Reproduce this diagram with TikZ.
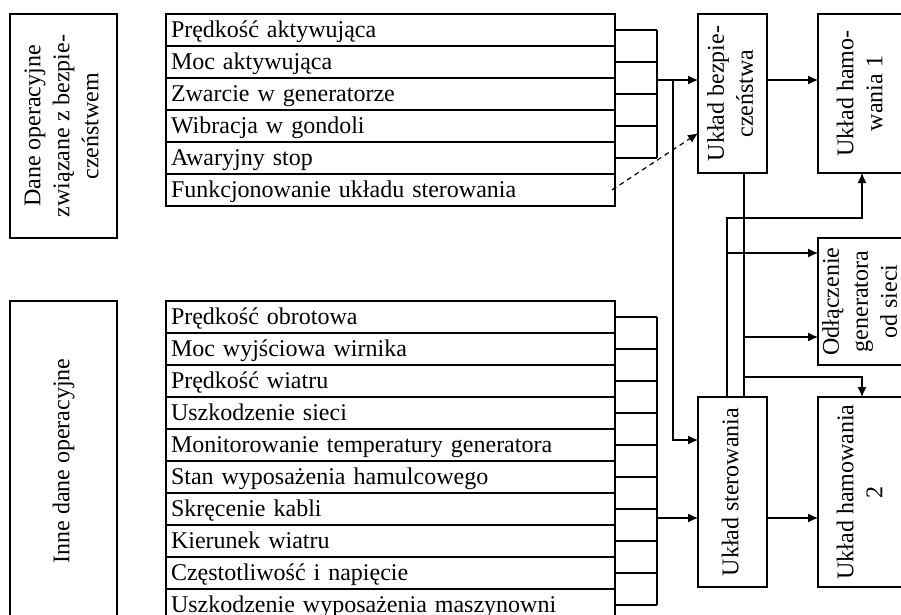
\documentclass[tikz,border=0pt]{standalone}
\usepackage{fontspec}
\setmainfont{Liberation Serif}
\usepackage{tikz}
\usetikzlibrary{calc, arrows.meta, positioning}

\tikzset{
    wiersz/.style={draw, anchor=north west, minimum height=32pt, text width=439pt,
        inner xsep=5pt, inner ysep=0pt, outer sep=0pt, align=left,
        text height=19pt, text depth=4pt},
    blok/.style={draw, anchor=north west, inner sep=0pt, outer sep=0pt}
}
\newcommand{\pion}[1]{\rotatebox{90}{\begin{tabular}{@{}c@{}}#1\end{tabular}}}

\begin{document}
\begin{tikzpicture}[x=1pt, y=-1pt, >={Latex[length=10pt, width=9pt]}, line width=1.2pt,
    every node/.style={font=\fontsize{24}{29}\selectfont}]

    \useasboundingbox (0,0) rectangle (901,614);
    \clip (0,0) rectangle (901,614);

    % =================================================================
    % LEWA KOLUMNA: RODZAJE DANYCH
    % =================================================================
    \node[blok, minimum width=107pt, minimum height=224pt] (dBez) at (10,14)
        {\pion{Dane operacyjne\\związane z bezpie-\\czeństwem}};
    \node[blok, minimum width=107pt, minimum height=320pt] (dInne) at (10,301)
        {\pion{Inne dane operacyjne}};

    % =================================================================
    % LISTY SYGNAŁÓW
    % =================================================================
    \node[wiersz] (s1) at (166,14) {Prędkość aktywująca};
    \foreach \t [count=\i from 2, evaluate=\i as \j using int(\i-1)] in
        {Moc aktywująca, Zwarcie w generatorze, Wibracja w gondoli,
         Awaryjny stop, Funkcjonowanie układu sterowania}
        \node[wiersz, below=0pt of s\j] (s\i) {\t};

    \node[wiersz] (o1) at (166,301) {Prędkość obrotowa};
    \foreach \t [count=\i from 2, evaluate=\i as \j using int(\i-1)] in
        {Moc wyjściowa wirnika, Prędkość wiatru, Uszkodzenie sieci,
         Monitorowanie temperatury generatora, Stan wyposażenia hamulcowego,
         Skręcenie kabli, Kierunek wiatru, Częstotliwość i napięcie,
         Uszkodzenie wyposażenia maszynowni}
        \node[wiersz, below=0pt of o\j] (o\i) {\t};

    % =================================================================
    % PRAWA CZĘŚĆ: UKŁADY
    % =================================================================
    \node[blok, minimum width=69pt, minimum height=159pt] (bez) at (698,14)
        {\pion{Układ bezpie-\\czeństwa}};
    \node[blok, minimum width=69pt, minimum height=190pt] (ster) at (698,397)
        {\pion{Układ sterowania}};
    \node[blok, minimum width=88pt, minimum height=159pt] (ham1) at (818,14)
        {\pion{Układ hamo-\\wania 1}};
    \node[blok, minimum width=88pt, minimum height=127pt] (odl) at (818,238)
        {\pion{Odłączenie\\generatora\\od sieci}};
    \node[blok, minimum width=88pt, minimum height=190pt] (ham2) at (818,397)
        {\pion{Układ hamowania\\2}};

    % Szyny zbiorcze list
    \coordinate (szyna) at (657,0);
    \foreach \i in {1,...,5}
        \draw (s\i.east) -- (s\i.east -| szyna);
    \draw (s1.east -| szyna) -- (s5.east -| szyna);
    \foreach \i in {1,...,10}
        \draw (o\i.east) -- (o\i.east -| szyna);
    \draw (o1.east -| szyna) -- (o10.east -| szyna);

    % Wejścia układów
    \coordinate (wejS) at (657,80);
    \coordinate (rozg) at (673,80);
    \coordinate (wejC) at (673,440);
    \coordinate (wejI) at (657,518);
    \draw[->] (wejS) -- (wejS -| bez.west);
    \draw[->] (rozg) -- (wejC) -- (wejC -| ster.west);
    \draw[->] (wejI) -- (wejI -| ster.west);
    \draw[->, dash pattern=on 5pt off 4pt] ([xshift=-3pt]s6.east)
        -- ($(bez.south west)!0.25!(bez.north west)$);

    % Wyjścia układów
    \draw[->] (wejS -| bez.east) -- (wejS -| ham1.west);
    \draw[->] (wejI -| ster.east) -- (wejI -| ham2.west);

    \coordinate (kA) at (727,218);
    \coordinate (kB) at (744,377);
    \coordinate (odlA) at (0,253);
    \coordinate (odlB) at (0,337);
    \draw[->] (ster.north -| kA) -- (kA) -| (ham1.south);
    \draw[->] (kA |- odlA) -- (odl.west |- odlA);
    \draw (bez.south -| kB) -- (ster.north -| kB);
    \draw[->] (kB) -| (ham2.north);
    \draw[->] (kB |- odlB) -- (odl.west |- odlB);

\end{tikzpicture}
\end{document}
